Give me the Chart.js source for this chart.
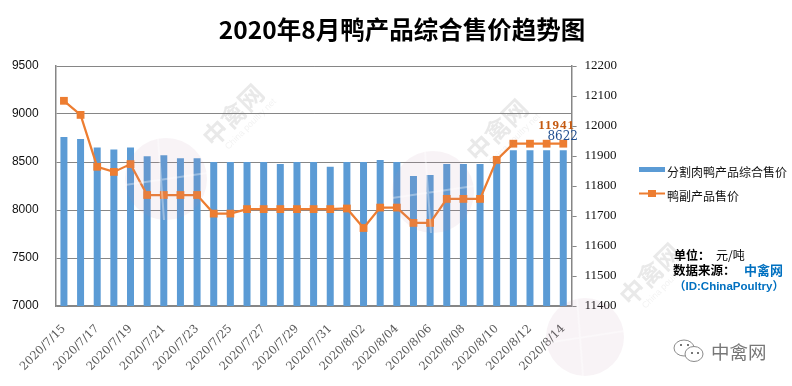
<!DOCTYPE html>
<html><head><meta charset="utf-8">
<style>html,body{margin:0;padding:0;background:#fff}canvas{display:block}</style>
<script src="https://cdn.jsdelivr.net/npm/chart.js@4"></script>
</head><body><canvas id="c" width="792" height="386"></canvas>
<script>
const chartTitle = "2020年8月鸭产品综合售价趋势图";
const categories = ["2020/7/15","2020/7/16","2020/7/17","2020/7/18","2020/7/19","2020/7/20","2020/7/21","2020/7/22","2020/7/23","2020/7/24","2020/7/25","2020/7/26","2020/7/27","2020/7/28","2020/7/29","2020/7/30","2020/7/31","2020/8/01","2020/8/02","2020/8/03","2020/8/04","2020/8/05","2020/8/06","2020/8/07","2020/8/08","2020/8/09","2020/8/10","2020/8/11","2020/8/12","2020/8/13","2020/8/14"];
const barName = "分割肉鸭产品综合售价";
const lineName = "鸭副产品售价";
const barValues = [8760,8740,8650,8630,8650,8560,8570,8540,8540,8500,8500,8500,8500,8480,8500,8500,8450,8500,8500,8520,8500,8355,8365,8480,8480,8480,8500,8622,8622,8622,8622];
const lineValues = [12084,12037,11864,11847,11873,11770,11770,11770,11770,11708,11708,11723,11723,11723,11723,11723,11723,11725,11660,11728,11728,11677,11677,11757,11757,11757,11887,11941,11941,11941,11941];
const BLUE="#5B9BD5", ORANGE="#ED7D31", GRAY="#868686";
const SANS='"Liberation Sans","Noto Sans CJK SC",sans-serif';
const CJK='"Noto Sans CJK SC","Liberation Sans",sans-serif';

function mark(ctx,x,y,angle,big,small,a){
  ctx.save();ctx.translate(x,y);ctx.rotate(angle);ctx.textAlign="center";ctx.textBaseline="middle";
  ctx.fillStyle="rgba(120,120,120,"+a+")";ctx.font="bold 25px "+CJK;ctx.fillText(big,0,0);
  ctx.font="9px "+SANS;ctx.fillStyle="rgba(120,120,120,"+(a*0.6)+")";ctx.fillText(small,6,19);
  ctx.restore();
}
function disc(ctx,x,y,r){
  ctx.save();ctx.fillStyle="rgba(190,140,170,0.10)";ctx.beginPath();ctx.arc(x,y,r,0,Math.PI*2);ctx.fill();
  ctx.strokeStyle="rgba(255,255,255,0.35)";ctx.lineWidth=2;ctx.beginPath();ctx.moveTo(x-8,y-r);ctx.lineTo(x-2,y+r);ctx.moveTo(x-r,y+6);ctx.lineTo(x+r,y-6);ctx.stroke();ctx.restore();
}
const decor={id:"decor",
 afterDatasetsDraw(ch){
  const c=ch.ctx;
  disc(c,166,179,41);disc(c,433,192,41);disc(c,585,337,39);
  mark(c,233,115,-Math.PI/4,"中禽网","China poultry net",0.16);
  mark(c,497,130,-Math.PI/4,"中禽网","China poultry net",0.16);
  mark(c,650,274,-Math.PI/4,"中禽网","China poultry net",0.16);
 },
 afterDraw(ch){
  const c=ch.ctx;c.save();
  c.textBaseline="middle";c.textAlign="center";c.fillStyle="#000";
  c.font="bold 24.5px "+CJK;c.fillText(chartTitle,402,30);
  const lastBar=ch.getDatasetMeta(0).data.at(-1), lastLine=ch.getDatasetMeta(1).data.at(-1);
  c.textAlign="right";
  c.font='bold 13px "Liberation Serif",serif';c.letterSpacing="1px";
  c.fillStyle="#C55A11";c.fillText(String(lineValues.at(-1)),575,lastLine.y-18);
  c.fillStyle="#1F4E8F";c.font='12px "DejaVu Serif",serif';c.letterSpacing="0px";c.fillText(String(barValues.at(-1)),578,lastBar.y-13);
  c.textAlign="left";c.fillStyle="#111";c.font="12px "+CJK;
  c.fillText(barName,667,172.5);c.fillText(lineName,667,196.5);
  c.fillStyle=BLUE;c.fillRect(639,167,26,5);
  c.strokeStyle=ORANGE;c.lineWidth=2;c.beginPath();c.moveTo(639,193.5);c.lineTo(665,193.5);c.stroke();
  c.fillStyle=ORANGE;c.fillRect(648,190,8,7);
  c.fillStyle="#000";c.font="bold 12px "+CJK;c.fillText("单位：",674,255);
  c.font="12px "+CJK;c.fillText("元/吨",716,255);
  c.font="bold 12.5px "+CJK;c.fillText("数据来源：",673,270);
  c.fillStyle="#0070C0";c.font="bold 13px "+CJK;c.fillText("中禽网",744,270);
  c.font="bold 11.5px "+SANS;c.fillText("（ID:ChinaPoultry）",674,287);
  c.strokeStyle="#8a8a8a";c.lineWidth=1;
  c.beginPath();c.ellipse(684,348,10,8,0,0,Math.PI*2);c.stroke();
  c.fillStyle="#fff";c.beginPath();c.ellipse(694,354,9,7.5,0,0,Math.PI*2);c.fill();c.stroke();
  c.fillStyle="#777";c.fillRect(680,344,2,2);c.fillRect(687,344,2,2);c.fillRect(691,352,2,2);c.fillRect(697,352,2,2);
  c.fillStyle="#777";c.font="18.5px "+CJK;c.fillText("中禽网",711,352);
  c.restore();
 }};

new Chart(document.getElementById("c"),{
 data:{labels:categories,datasets:[
  {type:"bar",label:barName,data:barValues,yAxisID:"y",backgroundColor:BLUE,categoryPercentage:1,barPercentage:0.42,order:2},
  {type:"line",label:lineName,data:lineValues,yAxisID:"y1",borderColor:ORANGE,backgroundColor:ORANGE,borderWidth:2.25,tension:0,pointStyle:"rect",pointRadius:5.5,pointBorderWidth:0,pointHoverRadius:5.5,order:1}
 ]},
 options:{responsive:false,animation:false,
  layout:{padding:{top:66,left:0,right:0,bottom:0}},
  plugins:{legend:{display:false},title:{display:false},tooltip:{enabled:false}},
  scales:{
   x:{grid:{display:false},border:{color:GRAY,width:1.5},
      afterFit(s){s.height=80;},
      ticks:{autoSkip:false,minRotation:45,maxRotation:45,padding:8,color:"#595959",font:{family:'"DejaVu Serif",serif',size:11.5},
       callback(v,i){return i%2===0?this.getLabelForValue(v):"";}}},
   y:{position:"left",min:7000,max:9500,afterFit(s){s.width=55.6;},
      grid:{color:GRAY,lineWidth:1,drawTicks:false},border:{color:GRAY,width:1.5},
      ticks:{stepSize:500,padding:17,color:"#111",font:{family:SANS,size:12},callback(v){return String(v);}}},
   y1:{position:"right",min:11400,max:12200,afterFit(s){s.width=220.4;},
      grid:{drawOnChartArea:false,color:GRAY,tickLength:5},border:{color:GRAY,width:1.5},
      ticks:{stepSize:100,padding:8,color:"#111",font:{family:'"Liberation Serif",serif',size:13},callback(v){return String(v);}}}
  }},
 plugins:[decor]
});
</script></body></html>
